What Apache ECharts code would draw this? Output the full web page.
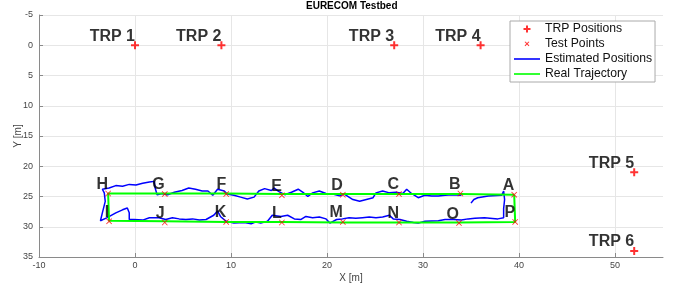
<!DOCTYPE html>
<html>
<head>
<meta charset="utf-8">
<script src="https://cdn.jsdelivr.net/npm/echarts@6/dist/echarts.min.js"></script>
<style>
  html, body { margin: 0; padding: 0; background: #fff; }
  #main { width: 678px; height: 291px; }
</style>
</head>
<body>
<div id="main"></div>
<script>
// TRP positions
const trpNames = ['TRP 1', 'TRP 2', 'TRP 3', 'TRP 4', 'TRP 5', 'TRP 6'];
const trpX = [0, 9, 27, 36, 52, 52];
const trpY = [0, 0, 0, 0, 21, 34];

// test points A..P
const testNames = ['A','B','C','D','E','F','G','H','I','J','K','L','M','N','O','P'];
const testX = [39.5, 33.9, 27.5, 21.65, 15.3, 9.5, 3.1, -2.8, -2.7, 3.1, 9.5, 15.3, 21.65, 27.5, 33.75, 39.6];
const testY = [24.7, 24.5, 24.6, 24.7, 24.8, 24.6, 24.6, 24.5, 29.1, 29.3, 29.2, 29.3, 29.2, 29.3, 29.4, 29.2];

// real trajectory (closed loop through the test points)
const realX = [39.5, 33.9, 27.5, 21.65, 15.3, 9.5, 3.1, -2.8, -2.7, 3.1, 9.5, 15.3, 21.65, 27.5, 33.75, 39.6, 39.5];
const realY = [24.7, 24.6, 24.6, 24.6, 24.6, 24.5, 24.5, 24.5, 29.0, 29.1, 29.2, 29.2, 29.3, 29.3, 29.3, 29.2, 24.7];

// estimated positions
const estX = [35.0, 35.3, 35.7, 36.8, 38.2, 38.4, 38.5, 38.4, 38.4,
  37.8, 36.4, 35.4, 34.7, 34.0, 33.2, 32.3, 31.6, 30.2, 29.5, 29.0, 28.3, 27.6, 26.9, 26.5, 25.8, 25.1, 24.4, 23.7, 23.0,
  22.3, 21.6, 21.0, 20.3, 19.9, 19.2, 18.5, 17.8, 17.3, 16.6, 15.9, 15.2, 14.3, 14.2, 13.8, 13.1, 12.6, 12.1, 11.4, 10.3,
  9.5, 8.9, 8.6, 8.2, 7.4, 6.7, 6.0, 5.3, 4.6, 3.9, 3.2, 2.5, 1.5, 0.8, -0.1, -0.6, -0.6, -0.8, -1.3, -2.0, -2.9, -3.6,
  -3.4, -3.1, -3.2, -3.4,
  -2.7, -2.0, -1.3, -0.6, 0.1, 0.8, 1.5, 2.0, 2.1, 2.3, 2.8, 3.4, 4.1, 4.9, 5.6, 6.3, 7.0, 7.6, 8.1, 8.6, 9.3, 9.6, 10.3,
  11.0, 11.7, 12.4, 12.9, 13.5, 14.2, 14.5, 15.0, 15.6, 16.3, 17.0, 17.5, 18.0, 18.5, 19.2, 19.9, 20.6, 21.3, 21.8, 22.7,
  23.4, 24.1, 24.8, 25.1, 25.8, 26.5, 27.2, 27.9, 28.3, 28.8, 29.5, 30.2, 30.9, 31.6, 32.3, 33.0, 34.0];
const estY = [26.1, 25.5, 25.2, 24.9, 24.8, 24.1, 25.5, 27.0, 28.5,
  28.7, 28.5, 28.6, 28.7, 28.9, 28.8, 28.8, 29.0, 29.1, 29.4, 29.3, 29.1, 28.8, 28.7, 28.1, 28.4, 28.5, 28.4, 28.5, 28.6,
  28.5, 28.7, 28.8, 29.4, 28.7, 28.4, 28.5, 28.3, 28.8, 28.7, 28.1, 28.3, 28.1, 28.4, 29.1, 29.4, 29.2, 29.5, 29.3, 29.4,
  29.1, 28.3, 27.4, 28.1, 28.8, 28.9, 28.7, 28.8, 28.7, 28.5, 28.8, 28.5, 28.5, 28.9, 28.8, 28.8, 27.7, 26.9, 27.2, 27.7, 28.5, 29.0,
  27.7, 25.8, 24.4, 23.8,
  23.6, 23.2, 23.3, 23.0, 23.1, 22.8, 22.6, 22.5, 23.6, 24.7, 24.5, 24.7, 24.3, 24.0, 23.6, 23.8, 24.1, 24.1, 24.8, 23.8, 24.1, 24.6, 24.8,
  25.1, 25.4, 25.1, 24.1, 23.7, 24.0, 23.6, 24.2, 24.7, 24.3, 23.8, 24.3, 25.0, 24.4, 24.1, 24.5, 24.6, 24.9, 24.6, 25.5,
  25.8, 25.5, 25.2, 24.4, 24.1, 24.4, 24.3, 24.5, 23.8, 24.5, 25.2, 24.8, 24.9, 24.9, 24.8, 24.7, 24.8];

const zip = (xs, ys) => xs.map((x, i) => [x, ys[i]]);

const plusPath = 'path://M3,0H5V3H8V5H5V8H3V5H0V3H3Z';
const crossPath = 'path://M0,1L1,0L5,4L9,0L10,1L6,5L10,9L9,10L5,6L1,10L0,9L4,5Z';
// legend icons drawn inside a 26x10 box
const plusIcon = 'path://M0,0M26,10M12,1.5H14V4H16.5V6H14V8.5H12V6H9.5V4H12Z';
const crossIcon = 'path://M0,0M26,10M10.6,3.1L11.3,2.4L13,4.1L14.7,2.4L15.4,3.1L13.7,4.8L15.4,6.5L14.7,7.2L13,5.5L11.3,7.2L10.6,6.5L12.3,4.8Z';
const lineIcon = 'path://M0,0M26,10M0,4.2H26V5.8H0Z';
const font = 'Liberation Sans, Arial, Helvetica, sans-serif';

const bigLabel = {
  show: true,
  position: ['50%', '50%'],
  align: 'right',
  verticalAlign: 'bottom',
  offset: [0, -1],
  color: '#000',
  fontSize: 16,
  fontWeight: 'bold',
  fontFamily: font,
};

const myChart = echarts.init(document.getElementById('main'));

const option = {
  animation: false,
  textStyle: { fontFamily: font },
  graphic: [{
    type: 'text',
    left: 351 - 45,
    top: 1,
    style: { text: 'EURECOM Testbed', fill: '#000', font: 'bold 10px ' + font },
  }],
  grid: { left: 39, right: 15, top: 15, bottom: 34, containLabel: false, outerBoundsMode: 'none' },
  legend: {
    orient: 'vertical',
    left: 510,
    top: 21,
    padding: [2, 3, 2, 4],
    itemGap: 3,
    itemWidth: 26,
    itemHeight: 10,
    backgroundColor: '#fff',
    borderColor: '#aaa',
    borderWidth: 1,
    textStyle: { fontSize: 12.2, color: '#111', fontFamily: font },
    data: [
      { name: 'TRP Positions', icon: plusIcon },
      { name: 'Test Points', icon: crossIcon },
      { name: 'Estimated Positions', icon: lineIcon },
      { name: 'Real Trajectory', icon: lineIcon },
    ],
  },
  xAxis: {
    type: 'value',
    min: -10,
    max: 55,
    interval: 10,
    name: 'X [m]',
    nameLocation: 'middle',
    nameGap: 16,
    nameMoveOverlap: false,
    nameTextStyle: { fontSize: 10, color: '#444' },
    axisLine: { show: true, onZero: false, lineStyle: { color: '#8a8a8a' } },
    axisTick: { show: true, inside: true, length: 4, lineStyle: { color: '#8a8a8a' } },
    axisLabel: { fontSize: 9, color: '#444', margin: 4, showMaxLabel: false },
    splitLine: { show: true, showMaxLine: false, lineStyle: { color: '#e6e6e6' } },
  },
  yAxis: {
    type: 'value',
    inverse: true,
    min: -5,
    max: 35,
    interval: 5,
    name: 'Y [m]',
    nameLocation: 'middle',
    nameGap: 16,
    nameRotate: 90,
    nameMoveOverlap: false,
    nameTextStyle: { fontSize: 10, color: '#444' },
    axisLine: { show: true, onZero: false, lineStyle: { color: '#8a8a8a' } },
    axisTick: { show: true, inside: true, length: 4, lineStyle: { color: '#8a8a8a' } },
    axisLabel: { fontSize: 9, color: '#444', margin: 6 },
    splitLine: { show: true, lineStyle: { color: '#e6e6e6' } },
  },
  series: [
    {
      name: 'TRP Positions',
      type: 'scatter',
      symbol: plusPath,
      symbolSize: 8,
      itemStyle: { color: '#ff0000' },
      z: 5,
      label: Object.assign({}, bigLabel, { formatter: p => trpNames[p.dataIndex] }),
      data: zip(trpX, trpY),
    },
    {
      name: 'Test Points',
      type: 'scatter',
      symbol: crossPath,
      symbolSize: 6,
      itemStyle: { color: '#ff0000' },
      z: 4,
      label: Object.assign({}, bigLabel, { formatter: p => testNames[p.dataIndex] }),
      data: zip(testX, testY),
    },
    {
      name: 'Estimated Positions',
      type: 'line',
      symbol: 'none',
      showSymbol: false,
      lineStyle: { color: '#0000ff', width: 1.5 },
      itemStyle: { color: '#0000ff' },
      z: 2,
      data: zip(estX, estY),
    },
    {
      name: 'Real Trajectory',
      type: 'line',
      symbol: 'none',
      showSymbol: false,
      lineStyle: { color: '#00ff00', width: 2 },
      itemStyle: { color: '#00ff00' },
      z: 3,
      data: zip(realX, realY),
    },
  ],
};

myChart.setOption(option);
</script>
</body>
</html>
